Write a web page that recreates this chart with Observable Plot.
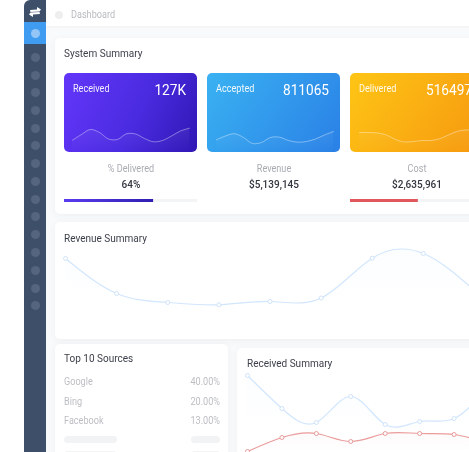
<!DOCTYPE html>
<html><head><meta charset="utf-8">
<script src="https://cdn.jsdelivr.net/npm/d3@7"></script>
<script src="https://cdn.jsdelivr.net/npm/@observablehq/plot@0.6"></script>
<style>
html,body{margin:0;padding:0;background:#fff;overflow:hidden}
#root{position:relative;width:469px;height:452px;overflow:hidden;background:#fff;font-family:Roboto,sans-serif;filter:blur(.25px)}
#root>*{position:absolute}
.t{white-space:nowrap;line-height:1;transform:scaleX(.91);transform-origin:left center}
.c{transform:translateX(-50%) scaleX(.91);transform-origin:center center}
.r{transform:translateX(-100%) scaleX(.91);transform-origin:right center}
.card{background:#fff;border-radius:5px;box-shadow:0 2px 8px rgba(40,50,80,.05)}
.dot{width:9px;height:9px;border-radius:50%;background:#55657f;left:30.5px}
.ph{background:#f2f3f5;border-radius:4px;height:7px}
svg{display:block;background:transparent!important}
.plot{position:absolute}
</style></head><body>
<svg width="0" height="0" style="position:absolute"><defs>
<linearGradient id="fade" x1="0" x2="0" y1="0" y2="1"><stop offset="0" stop-color="#fff" stop-opacity=".06"/><stop offset="1" stop-color="#fff" stop-opacity="0"/></linearGradient>
<linearGradient id="blueFade" x1="0" x2="0" y1="0" y2="1"><stop offset="0" stop-color="#cfe4fc" stop-opacity=".06"/><stop offset="1" stop-color="#cfe4fc" stop-opacity="0"/></linearGradient>
<linearGradient id="redFade" x1="0" x2="0" y1="0" y2="1"><stop offset="0" stop-color="#f0a0a0" stop-opacity=".05"/><stop offset="1" stop-color="#f0a0a0" stop-opacity="0"/></linearGradient>
<linearGradient id="barFade" x1="0" x2="1" y1="0" y2="0"><stop offset="0" stop-color="#5a3cf0"/><stop offset="1" stop-color="#2f1fb0"/></linearGradient>
</defs></svg>
<div id="root"></div>
<script>
const receivedSpark = [12.3,18,23,20,13.5,13,18.7,18.5,14,10.7,12,16.5,21.5,24.3];
const acceptedSpark = [12.7,16.5,18.8,15,9,10,15,15.3,12,10.3,11,13.5,17.5,21];
const deliveredSpark = [20,20,19.5,17.5,13,10.5,11,12,12,14,18,21.5,22.5,22.5];
const revenueSeries = [62,27,18,15.7,19,22.5,62.3,67,30];
const receivedBlue = [77,44,30,56,28,31,34,67];
const receivedRed = [1,15,19,11,19,19,18,9];
const sidebarDots = [57,75,92,110,128,145,163,181,199,216,234,252,270,288,305];
const kpiNames = ["Received","Accepted","Delivered"];
const kpiValues = ["127K","811065","516497"];
const statNames = ["% Delivered","Revenue","Cost"];
const statValues = ["64%","$5,139,145","$2,635,961"];
const deliveredShare = 67, costShare = 51;
const sourceNames = ["Google","Bing","Facebook"];
const sourceShares = ["40.00%","20.00%","13.00%"];

const root = document.getElementById("root");
function el(cls, style, text){const d=document.createElement("div");d.className=cls;d.style.cssText=style;if(text!=null)d.textContent=text;root.appendChild(d);return d;}
function txt(text,x,y,size,color,cls=""){return el("t "+cls,`left:${x}px;top:${y-size/2}px;font-size:${size}px;color:${color}`,text);}
function place(p,x,y){p.classList.add("plot");p.style.left=x+"px";p.style.top=y+"px";root.appendChild(p);}

// page
el("",`left:46px;top:28px;width:423px;height:424px;background:#f9fafb`);
el("",`left:46px;top:26px;width:423px;height:2px;background:#f5f5f6`);
el("",`left:24px;top:0;width:22px;height:452px;background:#3e4f6a;border-top-left-radius:6px`);
el("",`left:24px;top:22px;width:22px;height:22px;background:#3f9cf0`);
el("dot",`top:28.5px;background:#93c6f6`);
sidebarDots.forEach(y=>el("dot",`top:${y-4.5}px`));
const logo=document.createElementNS("http://www.w3.org/2000/svg","svg");
logo.setAttribute("width","14");logo.setAttribute("height","12");logo.setAttribute("viewBox","0 0 14 12");
logo.innerHTML='<path d="M2 4 L9 3.4 L9 1 L13 3.6 L11.5 5.6 L2.5 6 Z M12 8 L5 8.6 L5 11 L1 8.4 L2.5 6.4 L11.5 6 Z" fill="#fff"/>';
logo.style.cssText="left:28px;top:6px";root.appendChild(logo);
el("",`left:55px;top:11px;width:8px;height:8px;border-radius:50%;background:#eeeeef`);
txt("Dashboard",71,15,10,"#b9bbbf");

// cards
el("card",`left:55px;top:38px;width:430px;height:176px`);
el("card",`left:55px;top:222px;width:430px;height:117px`);
el("card",`left:55px;top:343.5px;width:173px;height:120px`);
el("card",`left:237px;top:348px;width:250px;height:120px`);
txt("System Summary",64,53,11,"#3c3f4a");
txt("Revenue Summary",64,238.5,11,"#3c3f4a");
txt("Top 10 Sources",64,358.5,11,"#3c3f4a");
txt("Received Summary",246.5,363,11,"#3c3f4a");

// KPI tiles
const tileX=[64,207,350];
const grads=["linear-gradient(115deg,#6336fa,#4a2be0 55%,#2f17b4)","linear-gradient(125deg,#3ab2f2,#2a80e6)","linear-gradient(125deg,#fec515,#f6980f)"];
const sparks=[receivedSpark,acceptedSpark,deliveredSpark];
tileX.forEach((x,i)=>{
  el("",`left:${x}px;top:73px;width:133px;height:79px;border-radius:5px;background:${grads[i]}`);
  txt(kpiNames[i],x+9,89,10,"rgba(255,255,255,.92)");
  txt(kpiValues[i],x+122,90.5,15,"#fff","r");
  const rows=sparks[i].map((v,k)=>({k,v}));
  place(Plot.plot({width:133,height:37,margin:0,x:{domain:[0,13],range:[[8,9,9][i],[125,126,126][i]],axis:null},y:{domain:[0,37],range:[37,0],axis:null},
    marks:[
      Plot.areaY(rows,{x:"k",y:"v",curve:"catmull-rom",fill:"url(#fade)"}),
      Plot.lineY(rows,{x:"k",y:"v",curve:"catmull-rom",stroke:"#fff",strokeOpacity:.36,strokeWidth:1})
    ]}),x,115);
  txt(statNames[i],x+66.5,169,10,"#a9abb2","c");
  txt(statValues[i],x+66.5,184,11,"#33363f","c").style.fontWeight="500";
});

// progress bars
function progress(share,color,x){
  place(Plot.plot({width:133,height:3,margin:0,x:{domain:[0,100],axis:null},y:{axis:null},
    marks:[Plot.barX([100],{x:d=>d,fill:"#f3f4f5"}),Plot.barX([share],{x:d=>d,fill:color})]}),x,199);
}
progress(deliveredShare,"url(#barFade)",64);
progress(costShare,"#e0585c",350);

// Revenue Summary
const revRows=revenueSeries.map((v,k)=>({k,v}));
place(Plot.plot({width:430,height:90,margin:0,x:{domain:[0,8],range:[10,419],axis:null},y:{domain:[0,90],range:[90,0],axis:null},
  marks:[
    Plot.areaY(revRows,{x:"k",y:"v",curve:"natural",fill:"url(#blueFade)"}),
    Plot.lineY(revRows,{x:"k",y:"v",curve:"natural",stroke:"#d2e6fd",strokeWidth:1.2}),
    Plot.dot(revRows,{x:"k",y:"v",r:2,fill:"#fff",stroke:"#cfe3fb",strokeWidth:1})
  ]}),55,230);

// Top sources
sourceNames.forEach((n,i)=>{
  const y=382+i*19.7;
  txt(n,64,y,10,"#bcbec3");
  txt(sourceShares[i],219.5,y,10,"#bcbec3","r");
});
el("ph",`left:64px;top:435.5px;width:53px`);
el("ph",`left:191px;top:435.5px;width:29px`);
el("ph",`left:64px;top:451px;width:53px`);
el("ph",`left:191px;top:451px;width:29px`);

// Received Summary
const bRows=receivedBlue.map((v,k)=>({k,v})), rRows=receivedRed.map((v,k)=>({k,v}));
place(Plot.plot({width:250,height:82,margin:0,x:{domain:[0,7],range:[10,251],axis:null},y:{domain:[0,82],range:[82,0],axis:null},
  marks:[
    Plot.areaY(bRows,{x:"k",y:"v",curve:"natural",fill:"url(#blueFade)"}),
    Plot.areaY(rRows,{x:"k",y:"v",curve:"natural",fill:"url(#redFade)"}),
    Plot.lineY(bRows,{x:"k",y:"v",curve:"natural",stroke:"#d2e6fd",strokeWidth:1.2}),
    Plot.dot(bRows,{x:"k",y:"v",r:2,fill:"#fff",stroke:"#cfe3fb",strokeWidth:1}),
    Plot.lineY(rRows,{x:"k",y:"v",curve:"natural",stroke:"#eb9c9c",strokeWidth:1.2}),
    Plot.dot(rRows,{x:"k",y:"v",r:2,fill:"#fff",stroke:"#e99a9a",strokeWidth:1})
  ]}),237,370);
</script>
</body></html>
